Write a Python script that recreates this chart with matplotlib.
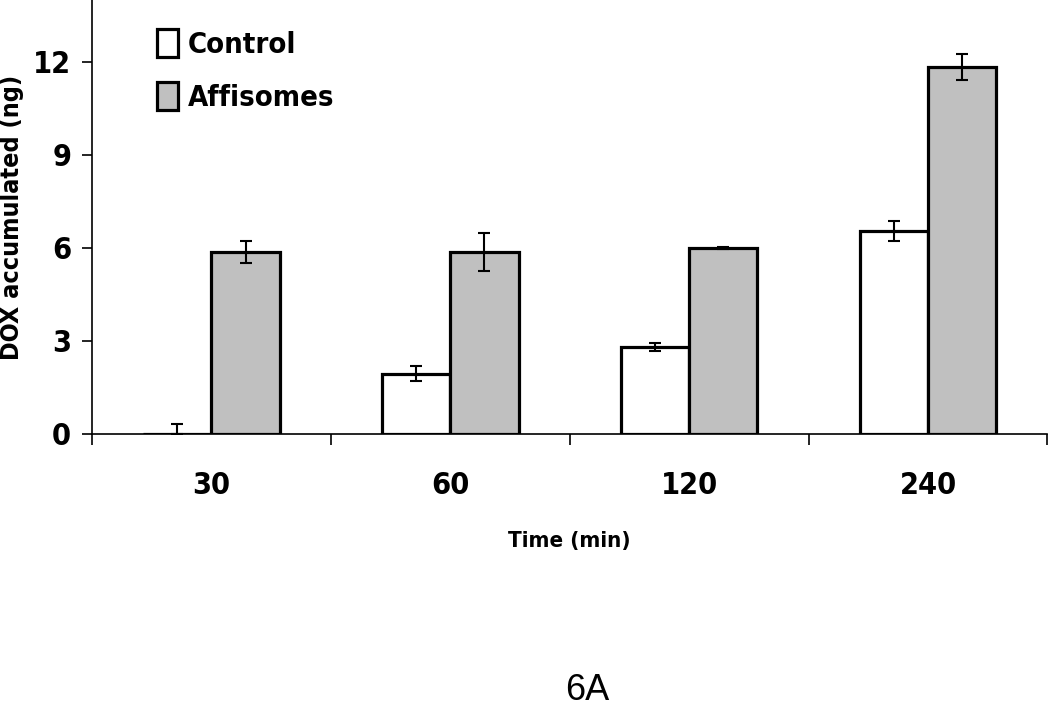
import numpy as np
import matplotlib.pyplot as plt
from matplotlib.patches import Patch

times = ['30', '60', '120', '240']
control = [0.0, 1.94, 2.81, 6.55]
control_err = [0.32, 0.24, 0.12, 0.33]
affisomes = [5.87, 5.87, 6.0, 11.84]
affisomes_err = [0.36, 0.6, 0.03, 0.42]

plt.rcParams['font.family'] = ['DejaVu Sans']
plt.rcParams['font.stretch'] = 'condensed'
plt.rcParams['font.weight'] = 'bold'

fig = plt.figure(figsize=(10.5, 7.09), dpi=100)
ax = fig.add_axes([0.0876, 0.388, 0.910, 0.612])

x = np.arange(len(times))
w = 0.286
c = np.array(control)
a = np.array(affisomes)
ce = np.array(control_err)
ae = np.array(affisomes_err)

ax.bar(x - w/2, c, w, color='white', edgecolor='black', linewidth=2.3, zorder=2)
ax.bar(x + w/2, a, w, color='#c0c0c0', edgecolor='black', linewidth=2.3, zorder=2)
ax.errorbar(x - w/2, c, yerr=[np.minimum(ce, c), ce], fmt='none', ecolor='black',
            elinewidth=1.5, capsize=4.5, capthick=1.5, zorder=3)
ax.errorbar(x + w/2, a, yerr=[ae, ae], fmt='none', ecolor='black',
            elinewidth=1.5, capsize=4.5, capthick=1.5, zorder=3)

ax.set_xlim(-0.5, 3.5)
ax.set_ylim(0, 14)
ax.set_yticks([0, 3, 6, 9, 12])
ax.set_xticks(np.arange(-0.5, 4.0, 1.0))
ax.set_xticklabels([])
ax.set_xticks(x, minor=True)
ax.set_xticklabels(times, minor=True)
ax.tick_params(axis='x', which='major', direction='out', length=8, width=1.2)
ax.tick_params(axis='x', which='minor', length=0, pad=27, labelsize=22)
ax.tick_params(axis='y', direction='out', length=7, width=1.2, labelsize=22, pad=8)
for s in ['top', 'right']:
    ax.spines[s].set_visible(False)
for s in ['left', 'bottom']:
    ax.spines[s].set_linewidth(1.2)

ax.set_xlabel('Time (min)', fontsize=16, fontweight='bold', labelpad=22)
ax.set_ylabel('DOX accumulated (ng)', fontsize=18, fontweight='bold')
ax.yaxis.set_label_coords(-0.071, 0.5)

handles = [Patch(facecolor='white', edgecolor='black', linewidth=2.3, label='Control'),
           Patch(facecolor='#c0c0c0', edgecolor='black', linewidth=2.3, label='Affisomes')]
ax.legend(handles=handles, loc='upper left', bbox_to_anchor=(0.056, 0.96), frameon=False,
          fontsize=21, handlelength=0.7, handleheight=1.1, handletextpad=0.35,
          labelspacing=0.78, borderaxespad=0)

fig.text(0.559, 0.013, '6A', ha='center', va='baseline', fontsize=26,
         fontweight='normal', fontstretch='normal', family=['Liberation Sans', 'DejaVu Sans'])

fig.savefig('out.png', dpi=100)
